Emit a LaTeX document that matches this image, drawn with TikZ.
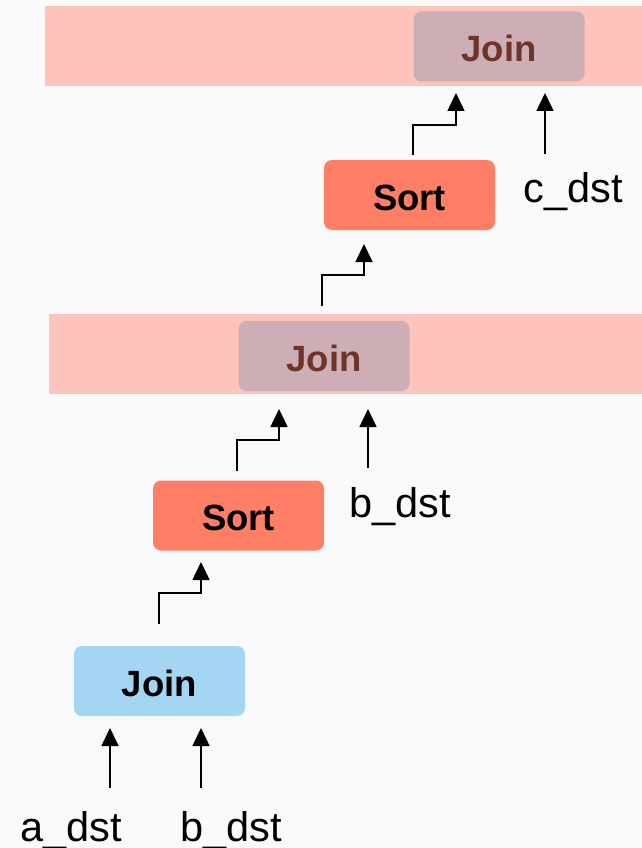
\documentclass[tikz,border=0pt]{standalone}
\usepackage{fontspec}
\setmainfont{Liberation Sans}
\usetikzlibrary{arrows.meta}
\definecolor{canvas}{HTML}{FAFAFA}
\definecolor{bandred}{HTML}{FEC3BA}
\definecolor{joingrey}{HTML}{CCAEB4}
\definecolor{joinbrown}{HTML}{6E3429}
\definecolor{sortred}{HTML}{FF7F66}
\definecolor{joinblue}{HTML}{A4D5F2}
\tikzset{
  opbox/.style={rounded corners=8pt, minimum width=171pt, minimum height=70pt,
    inner sep=0pt, text height=30pt, text depth=0pt,
    font=\fontsize{36.5}{40}\selectfont\bfseries},
  joinfaded/.style={opbox, fill=joingrey, text=joinbrown},
  sortbox/.style={opbox, fill=sortred, text=black},
  joinbox/.style={opbox, fill=joinblue, text=black},
  band/.style={fill=bandred, draw=none, inner sep=0pt, minimum height=80pt},
  tablelabel/.style={font=\fontsize{41.5}{46}\selectfont, inner sep=0pt, anchor=base},
  flow/.style={line width=1.6pt, -{Triangle[length=18pt,width=17pt]}}
}
\begin{document}
\begin{tikzpicture}[x=1pt,y=-1pt]
  \fill[canvas] (0,0) rectangle (642,848);
  \useasboundingbox (0,0) rectangle (642,848);

  % highlighted bands behind the repeated joins
  \node[band, minimum width=597pt] (band1) at (343.5,46) {};
  \node[band, minimum width=593pt] (band2) at (345.5,354) {};

  % operators
  \node[joinfaded] (join3) at (499,46.5) {Join};
  \node[sortbox]   (sort2) at (409.5,195) {Sort};
  \node[joinfaded] (join2) at (324,356) {Join};
  \node[sortbox]   (sort1) at (238.5,515.5) {Sort};
  \node[joinbox]   (join1) at (159.5,681) {Join};

  % input tables
  \node[tablelabel] (cdst)  at (573,202) {c\_dst};
  \node[tablelabel] (bdst2) at (400,517) {b\_dst};
  \node[tablelabel] (adst)  at (71,841) {a\_dst};
  \node[tablelabel] (bdst1) at (231,841) {b\_dst};

  % connector end points
  \coordinate (a-from) at (110,788);  \coordinate (a-to) at (110,728);
  \coordinate (b1-from) at (201,788); \coordinate (b1-to) at (201,728);
  \coordinate (j1-from) at (159,624); \coordinate (j1-to) at (201,562);
  \coordinate (s1-from) at (237,471); \coordinate (s1-to) at (279,409);
  \coordinate (b2-from) at (368,468); \coordinate (b2-to) at (368,409);
  \coordinate (j2-from) at (322,306); \coordinate (j2-to) at (364,244);
  \coordinate (s2-from) at (413,155); \coordinate (s2-to) at (456,93);
  \coordinate (c-from) at (545,154);  \coordinate (c-to) at (545,93);

  % data flow
  \draw[flow] (a-from) -- (a-to);
  \draw[flow] (b1-from) -- (b1-to);
  \draw[flow] (j1-from) -- ++(0,-31) -| (j1-to);
  \draw[flow] (s1-from) -- ++(0,-31) -| (s1-to);
  \draw[flow] (b2-from) -- (b2-to);
  \draw[flow] (j2-from) -- ++(0,-31) -| (j2-to);
  \draw[flow] (s2-from) -- ++(0,-30) -| (s2-to);
  \draw[flow] (c-from) -- (c-to);
\end{tikzpicture}
\end{document}
